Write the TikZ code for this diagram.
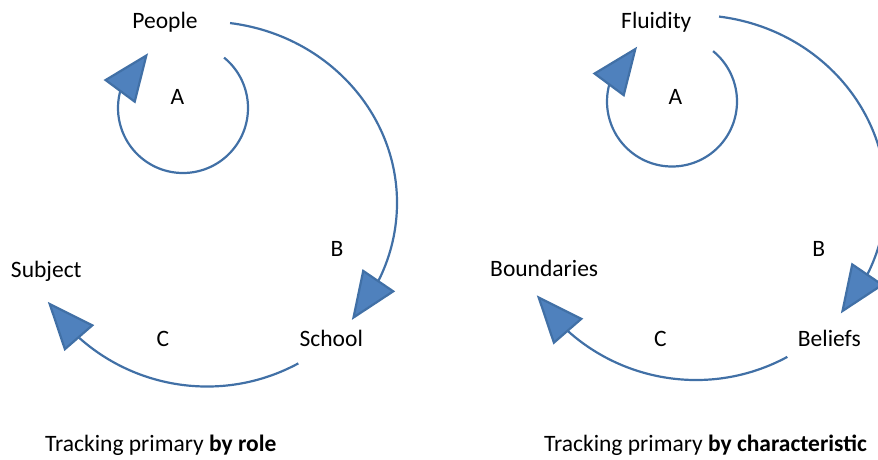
\documentclass[tikz,border=0pt]{standalone}
\usepackage{fontspec}
\setmainfont{Carlito}
\usetikzlibrary{arrows.meta,bending}
\definecolor{arcline}{HTML}{4170A6}
\definecolor{arcfill}{HTML}{4F81BD}

\begin{document}
\begin{tikzpicture}[x=1pt,y=1pt,
  loop/.style={draw=arcline, line width=2.2pt,
    -{Triangle[length=48pt,width=39pt,fill=arcfill,flex]}},
  lbl/.style={anchor=base, inner sep=0pt, font=\fontsize{23.5}{28}\selectfont}]
  \useasboundingbox (0,0) rectangle (878,-459);
  \clip (0,0) rectangle (878,-459);
  % loops A, B and C, same in both panels
  \foreach \dx/\dy in {0/0, 489/6.5} {
    \draw[loop] (183+\dx,-108+\dy) ++(50.8:65)
      arc[start angle=50.8, end angle=-237.5, radius=65];
    \draw[loop] (205+\dx,-203+\dy) ++(82.5:192 and 181.5)
      arc[start angle=82.5, end angle=-40.1, x radius=192, y radius=181.5];
    \draw[loop] (207+\dx,-194.5+\dy) ++(-61.6:192)
      arc[start angle=-61.6, end angle=-146, radius=192];
  }
  % by role
  \node[lbl] (people) at (165,-28.3) {People};
  \node[lbl] (roleA) at (177.5,-104.5) {A};
  \node[lbl] (roleB) at (337,-256.5) {B};
  \node[lbl] (subject) at (46.3,-277.3) {Subject};
  \node[lbl] (school) at (331.3,-346) {School};
  \node[lbl] (roleC) at (163,-346.5) {C};
  \node[lbl] (roleTitle) at (160.8,-451.5) {Tracking primary \textbf{by role}};
  % by characteristic
  \node[lbl] (fluidity) at (656.3,-28.5) {Fluidity};
  \node[lbl] (charA) at (675.5,-104.5) {A};
  \node[lbl] (charB) at (818.7,-256.5) {B};
  \node[lbl] (boundaries) at (544.2,-276.7) {Boundaries};
  \node[lbl] (charC) at (660.3,-346.5) {C};
  \node[lbl] (beliefs) at (829.3,-346.5) {Beliefs};
  \node[lbl] (charTitle) at (705.5,-451.5) {Tracking primary \textbf{by characteristic}};
\end{tikzpicture}
\end{document}
